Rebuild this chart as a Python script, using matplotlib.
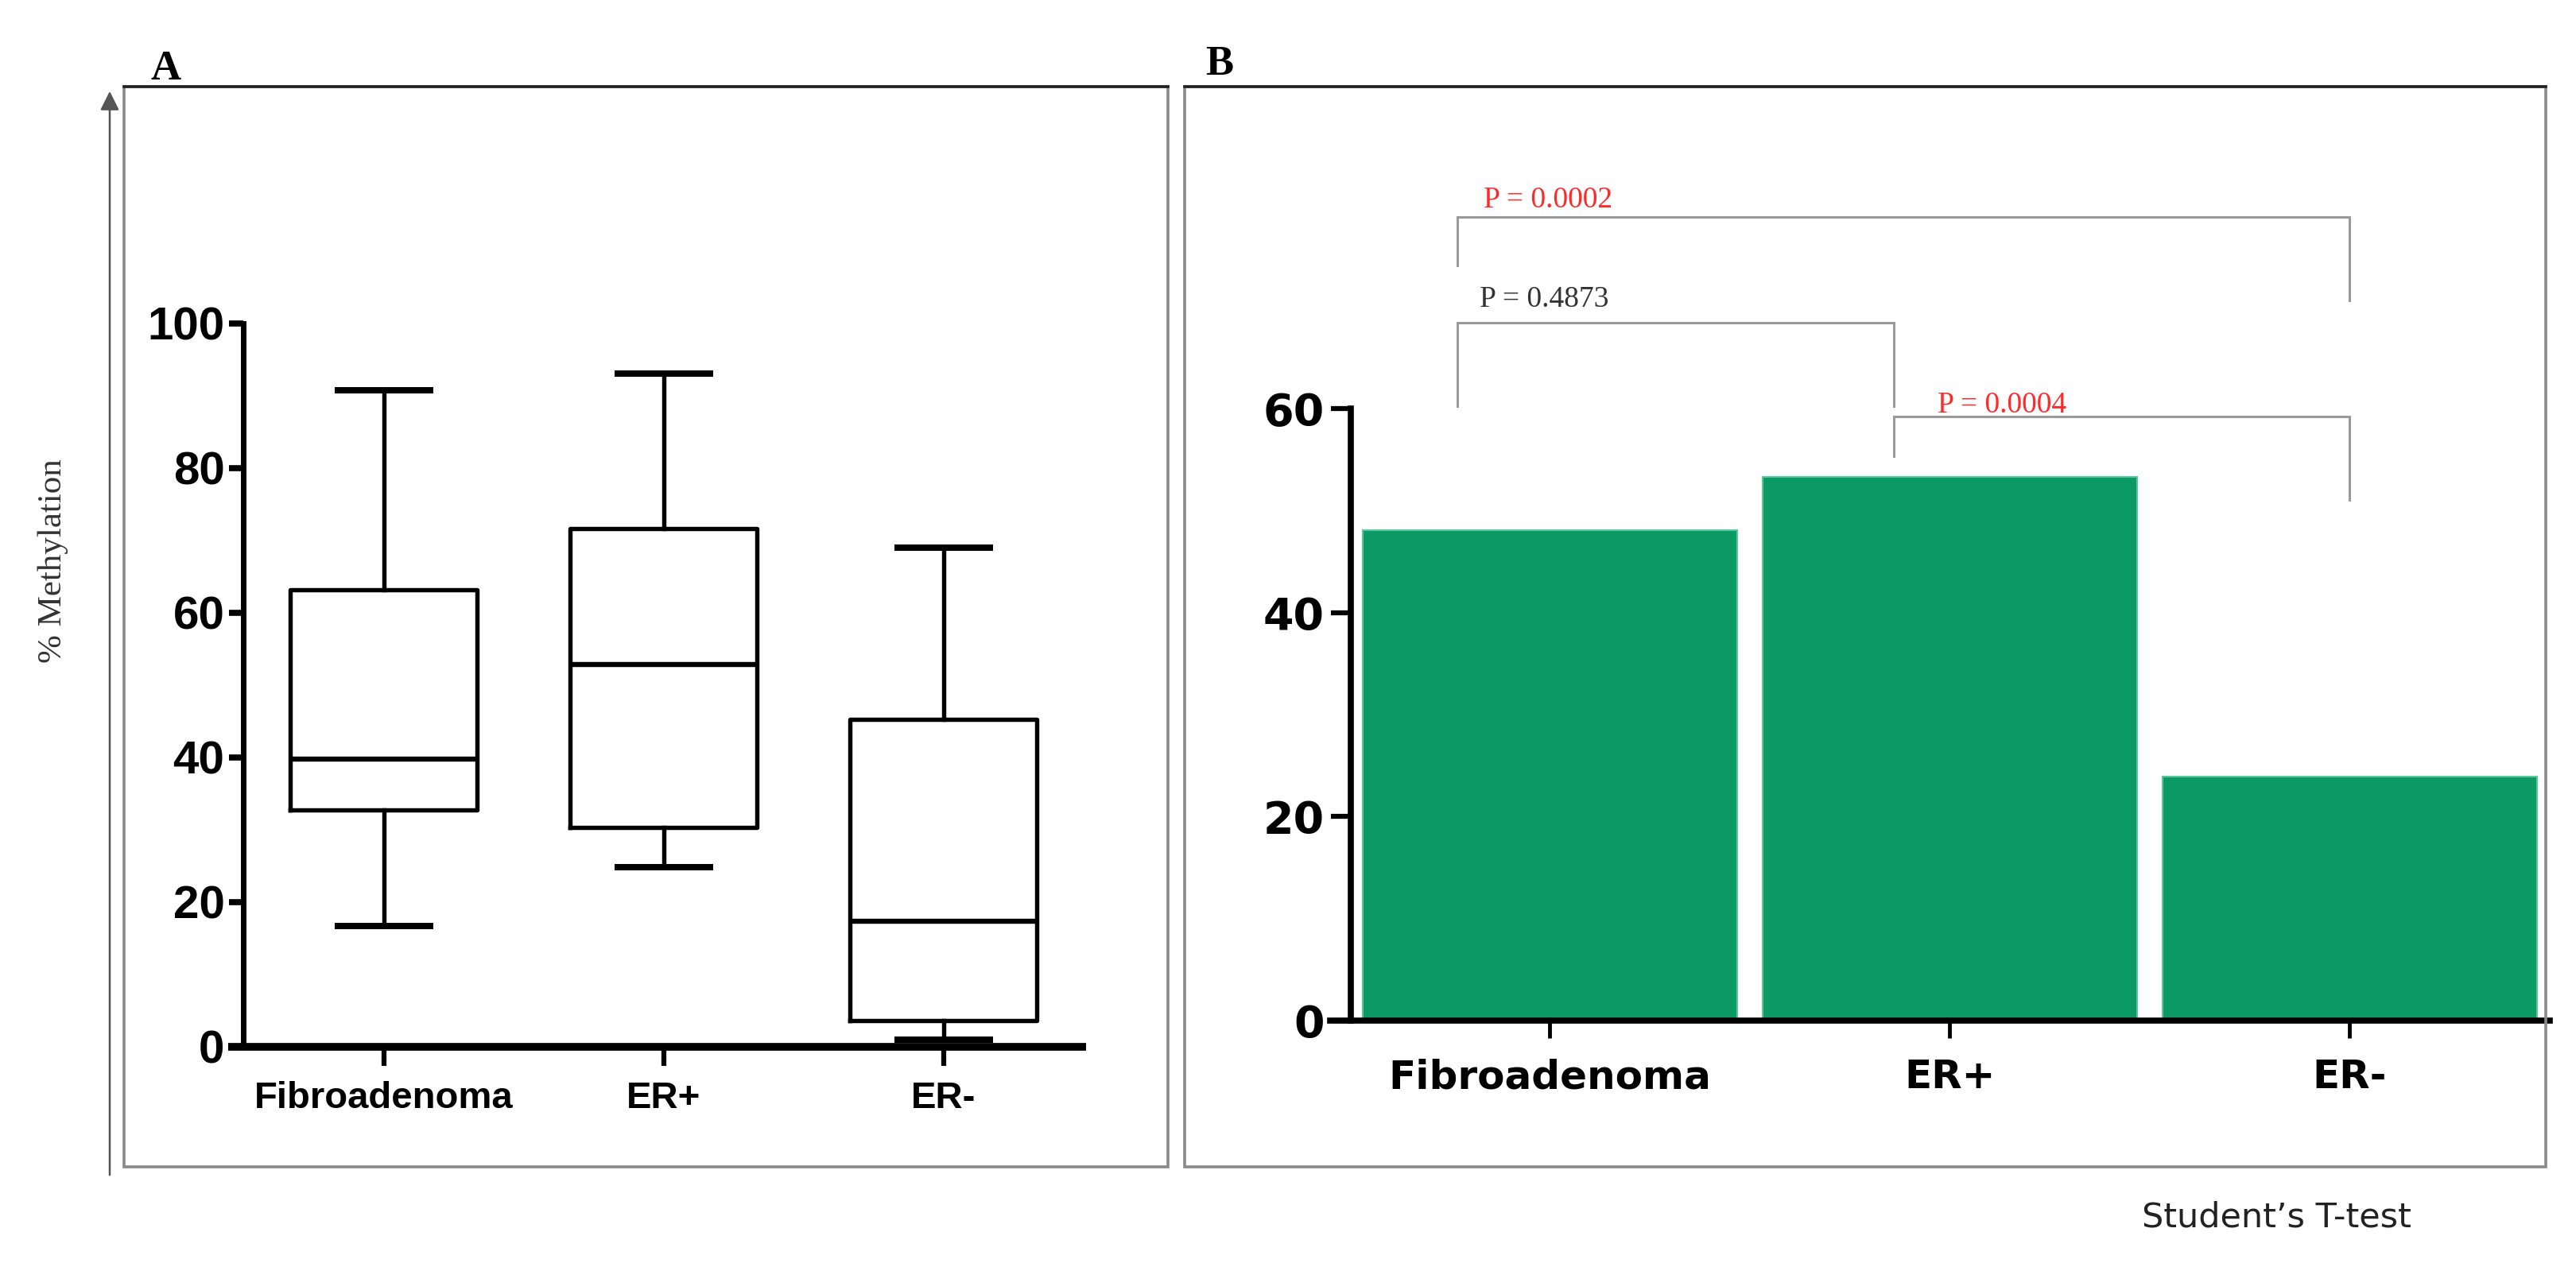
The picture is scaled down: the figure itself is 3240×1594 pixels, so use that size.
import matplotlib
matplotlib.use("Agg")
import matplotlib.pyplot as plt
from matplotlib.patches import Rectangle, FancyArrowPatch
from matplotlib.lines import Line2D

# ---- data ----
groups = ["Fibroadenoma", "ER+", "ER-"]

# panel A box plot statistics (% methylation)
whisker_low = [16.7, 24.8, 1.0]
quartile_1 = [32.7, 30.3, 3.6]
medians = [39.8, 52.9, 17.4]
quartile_3 = [63.2, 71.7, 45.3]
whisker_high = [90.8, 93.1, 69.0]
ticks_a = [0, 20, 40, 60, 80, 100]

# panel B bar heights
bar_means = [48.1, 53.3, 23.9]
ticks_b = [0, 20, 40, 60]

# p-value brackets: (x left, x right, top, left leg end, right leg end, label, colour)
brackets = [
    (-0.23, 2.0, 78.8, 74.0, 70.6, "P = 0.0002", "#ff2a2a"),
    (-0.23, 0.86, 68.4, 60.2, 60.2, "P = 0.4873", "#333333"),
    (0.86, 2.0, 59.2, 55.3, 51.0, "P = 0.0004", "#ff2a2a"),
]
label_x = [-0.165, -0.175, 0.97]
label_y = [80.4, 70.7, 60.3]

W, H = 3240, 1594
fig = plt.figure(figsize=(W / 100, H / 100), dpi=100)


def fx(px):
    return px / W


def fy(py):
    return 1 - py / H


def frame(x0, y0, x1, y1):
    fig.patches.append(Rectangle((fx(x0), fy(y1)), fx(x1) - fx(x0), fy(y0) - fy(y1),
                                 transform=fig.transFigure, fill=False,
                                 edgecolor="#8a8a8a", linewidth=2.6))
    fig.add_artist(Line2D([fx(x0), fx(x1)], [fy(y0), fy(y0)], transform=fig.transFigure,
                          color="#222222", linewidth=2.6))


frame(156, 109, 1469, 1468)
frame(1490, 109, 3202, 1468)

# left arrow
fig.patches.append(FancyArrowPatch((fx(138), fy(1481)), (fx(138), fy(112)),
                                   transform=fig.transFigure, arrowstyle="-|>,head_length=1.2,head_width=0.6",
                                   mutation_scale=12, color="#555555", linewidth=1.8))

fig.text(fx(190), fy(100), "A", family="Liberation Serif", fontweight="bold", fontsize=38,
         ha="left", va="baseline")
fig.text(fx(1516), fy(94), "B", family="Liberation Serif", fontweight="bold", fontsize=38,
         ha="left", va="baseline")
fig.text(fx(67), fy(706), "% Methylation", family="Liberation Serif", fontsize=31,
         rotation=90, ha="center", va="center", color="#333333")
fig.text(fx(2694), fy(1532), "Student\u2019s T-test", family="DejaVu Sans", fontsize=31,
         ha="left", va="center", color="#222222")

# ---- panel A: box plot ----
axA = fig.add_axes([fx(287), fy(1317), fx(1366) - fx(287), fy(407) - fy(1317)])
stats = []
for i, g in enumerate(groups):
    stats.append(dict(label=g, whislo=whisker_low[i], q1=quartile_1[i], med=medians[i],
                      q3=quartile_3[i], whishi=whisker_high[i], fliers=[]))
lw = 4.6
axA.bxp(stats, positions=range(len(groups)), widths=0.668, capwidths=0.33,
        showfliers=False,
        boxprops=dict(color="black", linewidth=lw * 0.85),
        whiskerprops=dict(color="black", linewidth=lw * 0.85),
        capprops=dict(color="black", linewidth=lw * 1.25),
        medianprops=dict(color="black", linewidth=lw))
axA.set_xlim(-0.557, 2.51)
axA.set_ylim(0, 100)
axA.set_yticks(ticks_a)
axA.set_xticks(range(len(groups)))
axA.set_xticklabels(groups)
for s in ["top", "right"]:
    axA.spines[s].set_visible(False)
axA.spines["left"].set_position(("data", -0.503))
axA.spines["left"].set_linewidth(5)
axA.spines["bottom"].set_linewidth(7)
axA.spines["bottom"].set_capstyle("butt")
axA.tick_params(axis="y", length=13, width=5.5, pad=4)
axA.tick_params(axis="x", length=17, width=4.5, pad=14)
for t in axA.get_yticklabels():
    t.set_family("Liberation Sans")
    t.set_fontweight("bold")
    t.set_fontsize(42)
for t in axA.get_xticklabels():
    t.set_family("Liberation Sans")
    t.set_fontweight("bold")
    t.set_fontsize(34)
axA.patch.set_alpha(0)

# ---- panel B: bar chart ----
axB = fig.add_axes([fx(1673), fy(1284), fx(3207) - fx(1673), fy(193) - fy(1284)])
axB.bar(range(len(groups)), bar_means, width=0.937, color="#0b9a65",
        edgecolor="#5cc79c", linewidth=1.5)
axB.set_xlim(-0.549, 2.5)
axB.set_ylim(0, 85)
axB.set_yticks(ticks_b)
axB.set_xticks(range(len(groups)))
axB.set_xticklabels(groups)
for s in ["top", "right"]:
    axB.spines[s].set_visible(False)
axB.spines["left"].set_position(("data", -0.497))
axB.spines["left"].set_bounds(0, 60)
axB.spines["left"].set_linewidth(5.5)
axB.spines["bottom"].set_linewidth(5.5)
axB.tick_params(axis="y", length=18, width=4.5, pad=6)
axB.tick_params(axis="x", length=16, width=3.5, pad=18)
for t in axB.get_yticklabels():
    t.set_family("DejaVu Sans")
    t.set_fontweight("bold")
    t.set_fontsize(40)
for t in axB.get_xticklabels():
    t.set_family("DejaVu Sans")
    t.set_fontweight("bold")
    t.set_fontsize(36)
axB.patch.set_alpha(0)

for (x0, x1, top, l_end, r_end, txt, col), tx, ty in zip(brackets, label_x, label_y):
    axB.plot([x0, x0, x1, x1], [l_end, top, top, r_end], color="#9a9a9a",
             linewidth=2.2, solid_joinstyle="miter", clip_on=False)
    axB.text(tx, ty, txt, color=col, family="Liberation Serif", fontsize=27,
             ha="left", va="center")

fig.savefig("out.png", dpi=100)
